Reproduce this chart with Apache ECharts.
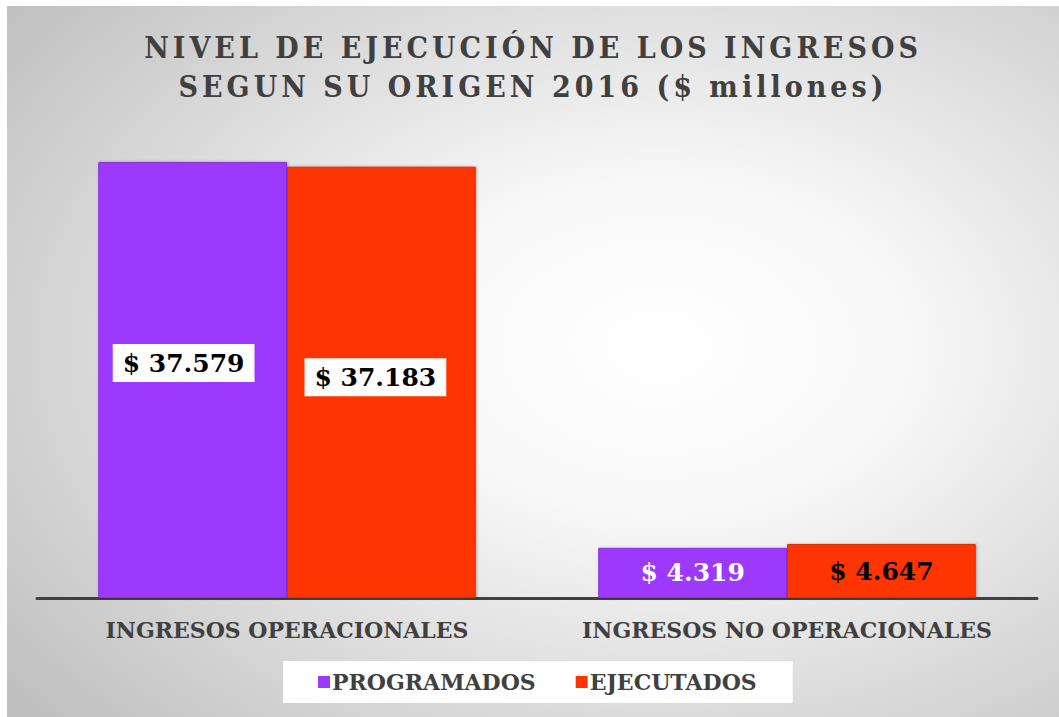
<!DOCTYPE html>
<html>
<head>
<meta charset="utf-8">
<script src="https://cdn.jsdelivr.net/npm/echarts@6/dist/echarts.min.js"></script>
<style>
  html, body { margin: 0; padding: 0; background: #fff; }
  #chart { position: absolute; left: 7px; top: 6px; width: 1052px; height: 711px; }
  /* espaciado de letras del titulo (solo texto de 30px) */
  #chart text[style*="30px"] { letter-spacing: 4px; }
</style>
</head>
<body>
<div id="chart"></div>
<script>
var categories = ['INGRESOS OPERACIONALES', 'INGRESOS NO OPERACIONALES'];
var programados = [37579, 4319];
var ejecutados = [37183, 4647];
var seriesNames = ['PROGRAMADOS', 'EJECUTADOS'];

var fontSerif = '"DejaVu Serif", serif';

function money(v) {
  return '$ ' + (v / 1000).toFixed(3);
}

var myChart = echarts.init(document.getElementById('chart'), null, {renderer: 'svg'});

// etiqueta con caja blanca (primera categoria)
var boxLabel = function (dx, dy) {
  return {
    show: true,
    position: 'inside',
    offset: [dx, dy],
    backgroundColor: '#fff',
    padding: [7, 10, 6, 10],
    color: '#000',
    fontFamily: fontSerif,
    fontWeight: 'bold',
    fontSize: 25,
    formatter: function (p) { return money(p.value); }
  };
};

var option = {
  backgroundColor: {
    type: 'radial', x: 0.62, y: 0.48, r: 0.78,
    colorStops: [
      {offset: 0, color: '#ffffff'},
      {offset: 0.3, color: '#f8f8f8'},
      {offset: 1, color: '#c0c0c0'}
    ]
  },
  title: {
    text: 'NIVEL DE EJECUCIÓN DE LOS INGRESOS\nSEGUN SU ORIGEN 2016 ($ millones)',
    left: 'center',
    top: 17,
    textStyle: {
      color: '#404040',
      fontFamily: '"DejaVu Serif Condensed", "DejaVu Serif", serif',
      fontWeight: 'bold',
      fontSize: 30,
      lineHeight: 39
    }
  },
  legend: {
    data: seriesNames,
    left: 276,
    top: 655,
    backgroundColor: '#fff',
    padding: [10, 36, 10, 35],
    itemWidth: 12,
    itemHeight: 12,
    itemGap: 40,
    icon: 'rect',
    itemStyle: {borderWidth: 0, shadowBlur: 0},
    textStyle: {
      color: '#404040',
      fontFamily: fontSerif,
      fontWeight: 'bold',
      fontSize: 22,
      padding: [0, 0, 0, -3]
    }
  },
  grid: {left: 30, right: 22, top: 128, bottom: 119},
  xAxis: {
    type: 'category',
    data: categories,
    axisLine: {lineStyle: {color: '#404040', width: 3}},
    axisTick: {show: false},
    axisLabel: {
      interval: 0,
      margin: 21,
      color: '#404040',
      fontFamily: fontSerif,
      fontWeight: 'bold',
      fontSize: 22
    }
  },
  yAxis: {
    type: 'value',
    min: 0,
    max: 40000,
    show: false,
    splitLine: {show: false}
  },
  series: [
    {
      name: seriesNames[0],
      type: 'bar',
      barGap: '0%',
      barCategoryGap: '24.5%',
      itemStyle: {
        color: '#9d38fd',
        borderColor: '#8a2fe0',
        borderWidth: 1,
        shadowColor: 'rgba(0,0,0,0.3)',
        shadowBlur: 3,
        shadowOffsetX: 1
      },
      data: [
        {value: programados[0], label: boxLabel(-9, -17)},
        {value: programados[1], label: {
          show: true, position: 'inside', color: '#fff',
          fontFamily: fontSerif, fontWeight: 'bold', fontSize: 25,
          formatter: function (p) { return money(p.value); }
        }}
      ]
    },
    {
      name: seriesNames[1],
      type: 'bar',
      itemStyle: {
        color: '#ff3600',
        borderColor: '#d82e00',
        borderWidth: 1,
        shadowColor: 'rgba(0,0,0,0.3)',
        shadowBlur: 3,
        shadowOffsetX: 1
      },
      data: [
        {value: ejecutados[0], label: boxLabel(-6, -5)},
        {value: ejecutados[1], label: {
          show: true, position: 'inside', color: '#000',
          fontFamily: fontSerif, fontWeight: 'bold', fontSize: 25,
          formatter: function (p) { return money(p.value); }
        }}
      ]
    }
  ]
};

myChart.setOption(option);
</script>
</body>
</html>
